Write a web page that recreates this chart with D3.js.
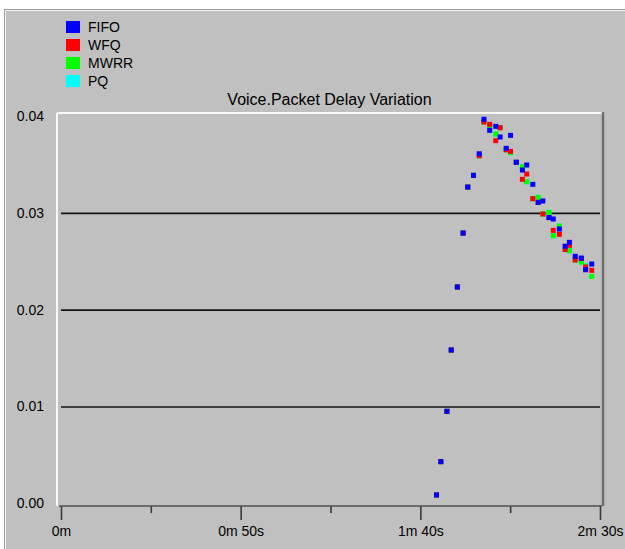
<!DOCTYPE html>
<html>
<head>
<meta charset="utf-8">
<script src="https://cdn.jsdelivr.net/npm/d3@7"></script>
<style>
  body { margin: 0; background: #ffffff; }
  svg text { font-family: "Liberation Sans", Arial, sans-serif; fill: #000; }
</style>
</head>
<body>
<div id="chart"></div>
<script>
// sample times (s) and values
var times = [104.5, 105.7, 107.4, 108.6, 110.3, 111.9, 113.2, 114.8, 116.4, 117.7,
             119.3, 121.0, 122.2, 123.9, 125.1, 126.7, 128.4, 129.6, 131.3, 132.8,
             134.1, 135.8, 137.0, 138.7, 140.3, 141.5, 143.1, 144.8, 146.0, 147.7];
var fifoValues = [0.00086, 0.00430, 0.00950, 0.01583, 0.02234, 0.02791, 0.03266, 0.03387, 0.03610, 0.03966,
                  0.03852, 0.03893, 0.03783, 0.03666, 0.03800, 0.03522, 0.03442, 0.03494, 0.03294, 0.03108,
                  0.03122, 0.02951, 0.02936, 0.02833, 0.02655, 0.02695, 0.02551, 0.02533, 0.02412, 0.02471];
var wfqValues = [0.00086, 0.00430, 0.00950, 0.01583, 0.02234, 0.02791, 0.03266, 0.03387, 0.03590, 0.03938,
                 0.03914, 0.03745, 0.03879, 0.03651, 0.03635, 0.03522, 0.03346, 0.03401, 0.03146, 0.03108,
                 0.02988, 0.02951, 0.02819, 0.02778, 0.02621, 0.02664, 0.02513, 0.02528, 0.02440, 0.02406];
var mwrrValues = [0.00086, 0.00430, 0.00950, 0.01583, 0.02234, 0.02791, 0.03266, 0.03387, 0.03590, 0.03938,
                  0.03899, 0.03814, 0.03879, 0.03651, 0.03621, 0.03522, 0.03476, 0.03321, 0.03146, 0.03160,
                  0.02988, 0.03005, 0.02763, 0.02864, 0.02621, 0.02608, 0.02513, 0.02492, 0.02451, 0.02342];
var pqValues = [0.00086, 0.00430, 0.00950, 0.01583, 0.02234, 0.02791, 0.03266, 0.03387, 0.03590, 0.03938,
                0.03899, 0.03814, 0.03879, 0.03651, 0.03621, 0.03522, 0.03476, 0.03321, 0.03146, 0.03160,
                0.02988, 0.03005, 0.02763, 0.02864, 0.02621, 0.02608, 0.02513, 0.02492, 0.02451, 0.02342];
var seriesNames = ["FIFO", "WFQ", "MWRR", "PQ"];
var seriesColors = ["#0000ff", "#ff0000", "#00ff00", "#00ffff"];
var xTicks = [0, 50, 100, 150];
var xMinorTicks = [25, 75, 125];
var yTicks = [0, 0.01, 0.02, 0.03, 0.04];
var title = "Voice.Packet Delay Variation";

var W = 625, H = 549;
var plot = {left: 57, top: 113, right: 602, bottom: 506};

var svg = d3.select("#chart").append("svg")
    .attr("width", W)
    .attr("height", H);

// window panel
svg.append("rect").attr("x", 4).attr("y", 9).attr("width", W - 4).attr("height", H - 9)
    .attr("fill", "#c0c0c0");
svg.append("line").attr("x1", 4.5).attr("x2", 4.5).attr("y1", 9).attr("y2", H)
    .attr("stroke", "#9a9a9a");
svg.append("line").attr("x1", 4).attr("x2", W).attr("y1", 9.5).attr("y2", 9.5)
    .attr("stroke", "#9a9a9a");
svg.append("line").attr("x1", 5.5).attr("x2", 5.5).attr("y1", 10).attr("y2", H)
    .attr("stroke", "#f4f4f4");
svg.append("line").attr("x1", 5).attr("x2", W).attr("y1", 10.5).attr("y2", 10.5)
    .attr("stroke", "#f4f4f4");

var x = d3.scaleLinear().domain([0, 150]).range([61, 600]);
var y = d3.scaleLinear().domain([0, 0.04]).range([503.3, 116]);

// plot frame
svg.append("line").attr("x1", plot.left).attr("x2", plot.right + 1)
    .attr("y1", plot.top).attr("y2", plot.top)
    .attr("stroke", "#f8f8f8").attr("stroke-width", 2);
svg.append("line").attr("x1", plot.left).attr("x2", plot.left)
    .attr("y1", plot.top).attr("y2", plot.bottom)
    .attr("stroke", "#f8f8f8").attr("stroke-width", 2);
svg.append("line").attr("x1", plot.right + 1).attr("x2", plot.right + 1)
    .attr("y1", plot.top - 1).attr("y2", plot.bottom)
    .attr("stroke", "#6e6e6e").attr("stroke-width", 2.5);

// gridlines
svg.append("g")
    .attr("transform", "translate(" + x(0) + ",0)")
    .call(d3.axisLeft(y).tickValues([0.01, 0.02, 0.03]).tickSize(-(x(150) - x(0))).tickFormat(""))
    .call(function(g) { g.select(".domain").remove(); })
    .selectAll("line").attr("stroke", "#141414").attr("stroke-width", 1.6);

// y labels
svg.append("g")
    .attr("transform", "translate(" + plot.left + ",0)")
    .call(d3.axisLeft(y).tickValues(yTicks).tickSize(0).tickPadding(13).tickFormat(d3.format(".2f")))
    .call(function(g) { g.select(".domain").remove(); })
    .selectAll("text").attr("font-size", 14).attr("font-family", "Liberation Sans, Arial, sans-serif");

function timeLabel(s) {
  var m = Math.floor(s / 60), r = s % 60;
  return r ? m + "m " + r + "s" : m + "m";
}

// x axis
var xAxisG = svg.append("g")
    .attr("transform", "translate(0," + plot.bottom + ")")
    .call(d3.axisBottom(x).tickValues(xTicks).tickSize(14).tickSizeOuter(0).tickPadding(6).tickFormat(timeLabel));
xAxisG.select(".domain").remove();
xAxisG.selectAll("line").attr("stroke", "#3a3a3a").attr("stroke-width", 1.6);
xAxisG.selectAll("text").attr("font-size", 14).attr("font-family", "Liberation Sans, Arial, sans-serif");

var xMinorG = svg.append("g")
    .attr("transform", "translate(0," + plot.bottom + ")")
    .call(d3.axisBottom(x).tickValues(xMinorTicks).tickSize(7).tickSizeOuter(0).tickFormat(""));
xMinorG.select(".domain").remove();
xMinorG.selectAll("line").attr("stroke", "#3a3a3a").attr("stroke-width", 1.6);

svg.append("line").attr("x1", plot.left + 2).attr("x2", plot.right)
    .attr("y1", plot.bottom).attr("y2", plot.bottom)
    .attr("stroke", "#505050").attr("stroke-width", 1.6);

// title
svg.append("text")
    .attr("x", (plot.left + plot.right) / 2)
    .attr("y", 105)
    .attr("text-anchor", "middle")
    .attr("font-size", 16)
    .text(title);

// legend
var legend = svg.append("g").attr("transform", "translate(66,21)");
seriesNames.forEach(function(name, i) {
  legend.append("rect").attr("x", 0).attr("y", i * 18).attr("width", 14).attr("height", 12)
      .attr("fill", seriesColors[i]);
  legend.append("text").attr("x", 22).attr("y", i * 18 + 11)
      .attr("font-size", 14).text(name);
});

// points, drawn PQ first so FIFO sits on top
var seriesValues = [fifoValues, wfqValues, mwrrValues, pqValues];
for (var k = seriesValues.length - 1; k >= 0; k--) {
  var data = times.map(function(t, i) { return {t: t, v: seriesValues[k][i]}; })
      .filter(function(d) { return d.v != null; });
  svg.append("g").selectAll("rect")
      .data(data)
    .enter().append("rect")
      .attr("x", function(d) { return x(d.t) - 2.5; })
      .attr("y", function(d) { return y(d.v) - 2.5; })
      .attr("width", 5)
      .attr("height", 5)
      .attr("fill", seriesColors[k]);
}
</script>
</body>
</html>
